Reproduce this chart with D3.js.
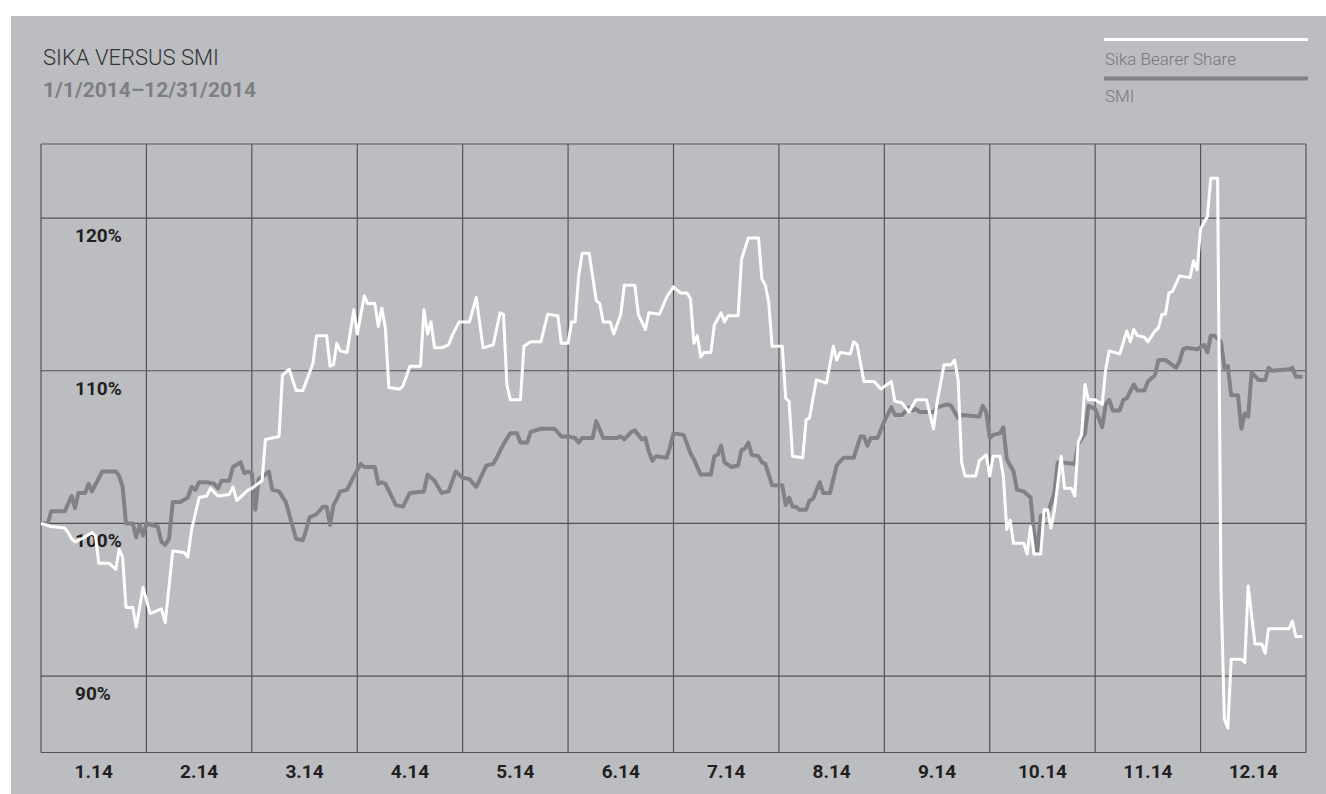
<!DOCTYPE html>
<html lang="en">
<head>
<meta charset="UTF-8">
<title>Sika versus SMI</title>
<script src="https://cdnjs.cloudflare.com/ajax/libs/d3/7.8.5/d3.min.js"></script>
<style>
    html, body { margin: 0; padding: 0; background: #fff; }
    svg { display: block; }
</style>
</head>
<body>
<svg id="chart" width="1326" height="794"></svg>
<script>
    // month tick labels and percentage levels
    const monthLabels = ["1.14", "2.14", "3.14", "4.14", "5.14", "6.14", "7.14", "8.14", "9.14", "10.14", "11.14", "12.14"];
    const pctTicks = [90, 100, 110, 120];
    const pctLabels = ["90%", "100%", "110%", "120%"];

    // Sika Bearer Share, indexed to 100 on 1/1/2014
    const sikaDates = [
        "2014-01-01","2014-01-04","2014-01-08","2014-01-09","2014-01-10","2014-01-11","2014-01-13","2014-01-16","2014-01-17","2014-01-18",
        "2014-01-21","2014-01-23","2014-01-24","2014-01-25","2014-01-26","2014-01-28","2014-01-29","2014-01-31","2014-02-02","2014-02-05",
        "2014-02-06","2014-02-08","2014-02-11","2014-02-12","2014-02-13","2014-02-15","2014-02-17","2014-02-18","2014-02-20","2014-02-23",
        "2014-02-24","2014-02-25","2014-02-28","2014-03-01","2014-03-04","2014-03-05","2014-03-09","2014-03-10","2014-03-12","2014-03-14",
        "2014-03-16","2014-03-19","2014-03-20","2014-03-23","2014-03-24","2014-03-25","2014-03-26","2014-03-27","2014-03-29","2014-03-31",
        "2014-04-01","2014-04-03","2014-04-04","2014-04-06","2014-04-07","2014-04-08","2014-04-09","2014-04-10","2014-04-13","2014-04-14",
        "2014-04-16","2014-04-19","2014-04-20","2014-04-21","2014-04-22","2014-04-23","2014-04-25","2014-04-27","2014-04-28","2014-04-30",
        "2014-05-03","2014-05-05","2014-05-07","2014-05-10","2014-05-12","2014-05-13","2014-05-14","2014-05-15","2014-05-18","2014-05-19",
        "2014-05-21","2014-05-24","2014-05-26","2014-05-29","2014-05-30","2014-06-01","2014-06-02","2014-06-03","2014-06-04","2014-06-05",
        "2014-06-07","2014-06-09","2014-06-10","2014-06-11","2014-06-13","2014-06-14","2014-06-16","2014-06-17","2014-06-20","2014-06-21",
        "2014-06-23","2014-06-24","2014-06-27","2014-06-29","2014-07-01","2014-07-03","2014-07-05","2014-07-06","2014-07-07","2014-07-08",
        "2014-07-09","2014-07-10","2014-07-12","2014-07-13","2014-07-15","2014-07-16","2014-07-17","2014-07-20","2014-07-21","2014-07-23",
        "2014-07-26","2014-07-27","2014-07-28","2014-07-29","2014-07-30","2014-08-02","2014-08-03","2014-08-04","2014-08-05","2014-08-08",
        "2014-08-09","2014-08-10","2014-08-12","2014-08-15","2014-08-17","2014-08-18","2014-08-19","2014-08-22","2014-08-23","2014-08-24",
        "2014-08-26","2014-08-29","2014-08-31","2014-09-03","2014-09-04","2014-09-06","2014-09-08","2014-09-10","2014-09-13","2014-09-15",
        "2014-09-16","2014-09-18","2014-09-20","2014-09-21","2014-09-22","2014-09-23","2014-09-24","2014-09-27","2014-09-28","2014-09-30",
        "2014-10-01","2014-10-02","2014-10-04","2014-10-05","2014-10-06","2014-10-07","2014-10-08","2014-10-11","2014-10-12","2014-10-13",
        "2014-10-14","2014-10-16","2014-10-17","2014-10-18","2014-10-19","2014-10-20","2014-10-22","2014-10-23","2014-10-25","2014-10-26",
        "2014-10-27","2014-10-28","2014-10-29","2014-10-30","2014-11-01","2014-11-03","2014-11-04","2014-11-05","2014-11-08","2014-11-10",
        "2014-11-11","2014-11-12","2014-11-13","2014-11-15","2014-11-16","2014-11-18","2014-11-19","2014-11-20","2014-11-21","2014-11-22",
        "2014-11-23","2014-11-25","2014-11-28","2014-11-29","2014-11-30","2014-12-01","2014-12-03","2014-12-04","2014-12-06","2014-12-07",
        "2014-12-08","2014-12-09","2014-12-10","2014-12-13","2014-12-14","2014-12-15","2014-12-17","2014-12-19","2014-12-20","2014-12-21",
        "2014-12-27","2014-12-28","2014-12-29","2014-12-31"
    ];
    const sikaValues = [
        100.0, 99.8, 99.7, 99.4, 99.0, 98.8, 99.0, 99.4, 99.2, 97.4,
        97.4, 97.0, 98.3, 97.8, 94.5, 94.5, 93.2, 95.8, 94.1, 94.4,
        93.5, 98.2, 98.1, 97.8, 99.6, 101.7, 101.8, 102.3, 101.8, 101.9,
        102.4, 101.5, 102.2, 102.3, 102.8, 105.5, 105.7, 109.7, 110.1, 108.7,
        108.7, 110.5, 112.3, 112.3, 110.3, 110.4, 111.8, 111.3, 111.2, 114.0,
        112.4, 114.9, 114.4, 114.4, 112.9, 114.1, 112.8, 108.9, 108.8, 109.0,
        110.3, 110.3, 114.0, 112.4, 113.2, 111.5, 111.5, 111.7, 112.3, 113.2,
        113.2, 114.8, 111.5, 111.7, 113.8, 113.7, 109.1, 108.1, 108.1, 111.6,
        111.9, 111.9, 113.7, 113.6, 111.8, 111.8, 113.2, 113.2, 116.2, 117.7,
        117.7, 114.6, 114.4, 113.2, 113.2, 112.4, 113.7, 115.6, 115.6, 113.7,
        112.7, 113.8, 113.7, 114.8, 115.5, 115.1, 115.1, 114.7, 111.8, 112.3,
        110.9, 111.2, 111.2, 113.0, 113.8, 113.2, 113.6, 113.6, 117.3, 118.7,
        118.7, 116.0, 115.6, 114.5, 111.6, 111.6, 108.2, 108.0, 104.4, 104.3,
        106.8, 106.9, 109.4, 109.2, 111.6, 110.7, 111.2, 111.1, 111.9, 111.7,
        109.3, 109.3, 108.8, 109.3, 108.0, 107.9, 107.3, 108.1, 108.1, 106.2,
        107.9, 110.4, 110.4, 110.7, 109.4, 104.0, 103.1, 103.1, 104.1, 104.5,
        103.1, 104.4, 104.4, 103.1, 99.6, 100.2, 98.7, 98.7, 98.0, 99.8,
        98.0, 98.0, 100.9, 100.9, 99.7, 100.8, 104.4, 102.3, 102.3, 101.8,
        105.3, 105.8, 109.1, 108.1, 108.1, 107.8, 110.1, 111.3, 111.1, 112.6,
        111.9, 112.7, 112.3, 112.2, 111.9, 112.6, 112.8, 113.7, 113.7, 115.1,
        115.2, 116.2, 116.1, 117.2, 116.6, 119.3, 120.1, 122.6, 122.6, 95.8,
        87.2, 86.6, 91.1, 91.1, 90.9, 95.9, 92.1, 92.1, 91.5, 93.1,
        93.1, 93.6, 92.6, 92.6
    ];

    // SMI, indexed to 100 on 1/1/2014
    const smiDates = [
        "2014-01-01","2014-01-03","2014-01-04","2014-01-08","2014-01-10","2014-01-11","2014-01-12","2014-01-14","2014-01-15","2014-01-16",
        "2014-01-19","2014-01-23","2014-01-24","2014-01-25","2014-01-26","2014-01-28","2014-01-29","2014-01-30","2014-01-31","2014-02-01",
        "2014-02-04","2014-02-05","2014-02-06","2014-02-07","2014-02-08","2014-02-10","2014-02-12","2014-02-13","2014-02-14","2014-02-15",
        "2014-02-17","2014-02-19","2014-02-20","2014-02-21","2014-02-23","2014-02-24","2014-02-26","2014-02-27","2014-02-28","2014-03-01",
        "2014-03-02","2014-03-03","2014-03-06","2014-03-07","2014-03-09","2014-03-11","2014-03-14","2014-03-16","2014-03-17","2014-03-18",
        "2014-03-20","2014-03-22","2014-03-23","2014-03-24","2014-03-25","2014-03-26","2014-03-27","2014-03-29","2014-03-31","2014-04-02",
        "2014-04-03","2014-04-06","2014-04-07","2014-04-08","2014-04-09","2014-04-12","2014-04-14","2014-04-16","2014-04-20","2014-04-21",
        "2014-04-23","2014-04-25","2014-04-27","2014-04-29","2014-05-01","2014-05-03","2014-05-05","2014-05-08","2014-05-10","2014-05-11",
        "2014-05-13","2014-05-15","2014-05-17","2014-05-18","2014-05-20","2014-05-21","2014-05-24","2014-05-28","2014-05-30","2014-06-01",
        "2014-06-03","2014-06-04","2014-06-05","2014-06-08","2014-06-09","2014-06-11","2014-06-15","2014-06-16","2014-06-17","2014-06-19",
        "2014-06-20","2014-06-22","2014-06-23","2014-06-24","2014-06-25","2014-06-26","2014-06-29","2014-06-30","2014-07-01","2014-07-04",
        "2014-07-06","2014-07-07","2014-07-09","2014-07-12","2014-07-13","2014-07-14","2014-07-15","2014-07-16","2014-07-18","2014-07-20",
        "2014-07-21","2014-07-22","2014-07-23","2014-07-24","2014-07-26","2014-07-27","2014-07-28","2014-07-29","2014-07-30","2014-08-02",
        "2014-08-03","2014-08-04","2014-08-05","2014-08-06","2014-08-07","2014-08-09","2014-08-10","2014-08-11","2014-08-13","2014-08-14",
        "2014-08-16","2014-08-18","2014-08-20","2014-08-23","2014-08-25","2014-08-26","2014-08-27","2014-08-28","2014-08-30","2014-09-01",
        "2014-09-03","2014-09-04","2014-09-06","2014-09-08","2014-09-09","2014-09-10","2014-09-11","2014-09-15","2014-09-16","2014-09-19",
        "2014-09-20","2014-09-22","2014-09-23","2014-09-28","2014-09-29","2014-09-30","2014-10-01","2014-10-02","2014-10-04","2014-10-05",
        "2014-10-06","2014-10-08","2014-10-09","2014-10-11","2014-10-13","2014-10-14","2014-10-15","2014-10-16","2014-10-18","2014-10-20",
        "2014-10-21","2014-10-22","2014-10-26","2014-10-27","2014-10-29","2014-10-30","2014-11-01","2014-11-03","2014-11-04","2014-11-05",
        "2014-11-06","2014-11-08","2014-11-09","2014-11-10","2014-11-12","2014-11-13","2014-11-15","2014-11-16","2014-11-18","2014-11-19",
        "2014-11-21","2014-11-24","2014-11-25","2014-11-26","2014-11-27","2014-11-30","2014-12-02","2014-12-03","2014-12-04","2014-12-05",
        "2014-12-07","2014-12-08","2014-12-09","2014-12-10","2014-12-12","2014-12-13","2014-12-14","2014-12-15","2014-12-16","2014-12-18",
        "2014-12-20","2014-12-21","2014-12-22","2014-12-27","2014-12-28","2014-12-29","2014-12-31"
    ];
    const smiValues = [
        100.0, 100.0, 100.8, 100.8, 101.8, 101.0, 102.0, 102.0, 102.6, 102.1,
        103.4, 103.4, 103.1, 102.4, 100.0, 100.0, 99.1, 99.9, 99.2, 100.0,
        99.8, 98.8, 98.6, 99.0, 101.4, 101.4, 101.7, 102.4, 102.2, 102.7,
        102.7, 102.6, 102.3, 102.8, 102.8, 103.7, 104.0, 103.3, 103.4, 103.3,
        100.9, 102.9, 103.4, 102.2, 102.1, 101.4, 99.0, 98.9, 99.6, 100.4,
        100.6, 101.1, 101.1, 99.9, 101.2, 101.6, 102.1, 102.2, 103.1, 103.9,
        103.7, 103.7, 102.6, 102.7, 102.6, 101.2, 101.1, 102.0, 102.1, 103.2,
        102.8, 102.0, 102.1, 103.4, 103.0, 102.9, 102.4, 103.8, 103.9, 104.3,
        105.2, 105.9, 105.9, 105.3, 105.3, 106.0, 106.2, 106.2, 105.7, 105.7,
        105.6, 105.3, 105.6, 105.6, 106.7, 105.6, 105.6, 105.7, 105.5, 106.0,
        106.1, 105.5, 105.6, 104.7, 104.1, 104.4, 104.3, 105.0, 105.9, 105.8,
        104.6, 104.2, 103.2, 103.2, 104.4, 104.5, 105.1, 104.0, 103.7, 103.8,
        104.8, 104.9, 105.3, 104.5, 104.4, 104.0, 103.9, 103.2, 102.5, 102.5,
        101.2, 101.7, 101.1, 101.1, 100.9, 100.9, 101.5, 101.6, 102.7, 102.0,
        102.0, 103.8, 104.3, 104.3, 105.7, 105.7, 105.1, 105.6, 105.6, 106.7,
        107.6, 107.1, 107.1, 107.6, 107.4, 107.5, 107.3, 107.3, 107.6, 107.8,
        107.7, 106.9, 107.1, 107.0, 107.7, 107.3, 105.6, 105.8, 105.9, 106.3,
        104.2, 103.4, 102.2, 102.1, 101.7, 99.4, 98.1, 100.5, 100.6, 102.0,
        104.0, 104.0, 103.9, 105.2, 105.9, 107.7, 107.5, 106.3, 107.8, 108.1,
        107.4, 107.4, 108.1, 108.2, 109.1, 108.7, 108.7, 109.3, 109.7, 110.7,
        110.7, 110.2, 110.6, 111.4, 111.5, 111.4, 111.7, 111.2, 112.3, 112.3,
        111.9, 110.2, 110.3, 108.4, 108.4, 106.2, 107.2, 107.0, 109.9, 109.4,
        109.4, 110.2, 110.0, 110.1, 110.2, 109.6, 109.6
    ];

    const parse = d3.timeParse("%Y-%m-%d");
    const sika = sikaDates.map((d, i) => ({date: parse(d), value: sikaValues[i]}));
    const smi = smiDates.map((d, i) => ({date: parse(d), value: smiValues[i]}));

    const svg = d3.select("#chart");
    const plotLeft = 41, plotRight = 1306, plotTop = 144, plotBottom = 752.5;

    // grey panel
    svg.append("rect")
        .attr("x", 11).attr("y", 16)
        .attr("width", 1326 - 11).attr("height", 794 - 16)
        .attr("fill", "#bcbdc1");

    // months get equal width, so use a piecewise time scale
    const monthStarts = d3.timeMonth.range(new Date(2014, 0, 1), new Date(2015, 0, 2));
    const x = d3.scaleTime()
        .domain(monthStarts)
        .range(monthStarts.map((d, i) => plotLeft + (plotRight - plotLeft) * i / 12));

    const y = d3.scaleLinear()
        .domain([85, 124.85])
        .range([plotBottom, plotTop]);

    // grid
    const grid = svg.append("g").attr("stroke", "#545457").attr("stroke-width", 1.2);
    grid.selectAll("line.v")
        .data(monthStarts)
        .enter()
        .append("line")
        .attr("x1", d => x(d)).attr("x2", d => x(d))
        .attr("y1", plotTop).attr("y2", plotBottom);
    grid.selectAll("line.h")
        .data(pctTicks.concat([y.domain()[1]]))
        .enter()
        .append("line")
        .attr("x1", plotLeft).attr("x2", plotRight)
        .attr("y1", d => y(d)).attr("y2", d => y(d));
    grid.append("line")
        .attr("x1", plotLeft).attr("x2", plotRight)
        .attr("y1", plotBottom).attr("y2", plotBottom);

    // percentage labels sit under their line
    svg.selectAll("text.pct")
        .data(pctTicks)
        .enter()
        .append("text")
        .attr("x", 75)
        .attr("y", d => y(d) + 24)
        .attr("font-family", "Roboto, 'DejaVu Sans', sans-serif")
        .attr("font-weight", 700)
        .attr("font-size", 19)
        .attr("fill", "#231f20")
        .text((d, i) => pctLabels[i]);

    // month labels centred in each column
    svg.selectAll("text.month")
        .data(monthLabels)
        .enter()
        .append("text")
        .attr("x", (d, i) => (x(monthStarts[i]) + x(monthStarts[i + 1])) / 2)
        .attr("y", 777.5)
        .attr("text-anchor", "middle")
        .attr("font-family", "Roboto, 'DejaVu Sans', sans-serif")
        .attr("font-weight", 700)
        .attr("font-size", 19)
        .attr("fill", "#231f20")
        .text(d => d);

    const line = d3.line()
        .x(d => x(d.date))
        .y(d => y(d.value));

    svg.append("path")
        .datum(smi)
        .attr("d", line)
        .attr("fill", "none")
        .attr("stroke", "#818286")
        .attr("stroke-width", 4)
        .attr("stroke-linejoin", "round");

    svg.append("path")
        .datum(sika)
        .attr("d", line)
        .attr("fill", "none")
        .attr("stroke", "#ffffff")
        .attr("stroke-width", 3)
        .attr("stroke-linejoin", "round");

    // title
    svg.append("text")
        .attr("x", 43).attr("y", 65)
        .attr("font-family", "Roboto, sans-serif")
        .attr("font-weight", 300)
        .attr("font-size", 22)
        .attr("fill", "#333335")
        .text("SIKA VERSUS SMI");
    svg.append("text")
        .attr("x", 43).attr("y", 97)
        .attr("font-family", "Roboto, sans-serif")
        .attr("font-weight", 700)
        .attr("font-size", 21)
        .attr("fill", "#7e7f83")
        .text("1/1/2014–12/31/2014");

    // legend
    const legend = [
        {name: "Sika Bearer Share", color: "#ffffff", width: 3, y: 39.5, ty: 65},
        {name: "SMI", color: "#818286", width: 4, y: 78.5, ty: 102}
    ];
    const lg = svg.append("g");
    lg.selectAll("line")
        .data(legend)
        .enter()
        .append("line")
        .attr("x1", 1104).attr("x2", 1308)
        .attr("y1", d => d.y).attr("y2", d => d.y)
        .attr("stroke", d => d.color)
        .attr("stroke-width", d => d.width);
    lg.selectAll("text")
        .data(legend)
        .enter()
        .append("text")
        .attr("x", 1105)
        .attr("y", d => d.ty)
        .attr("font-family", "Roboto, sans-serif")
        .attr("font-weight", 300)
        .attr("font-size", 17)
        .attr("fill", "#77787c")
        .text(d => d.name);
</script>
</body>
</html>
